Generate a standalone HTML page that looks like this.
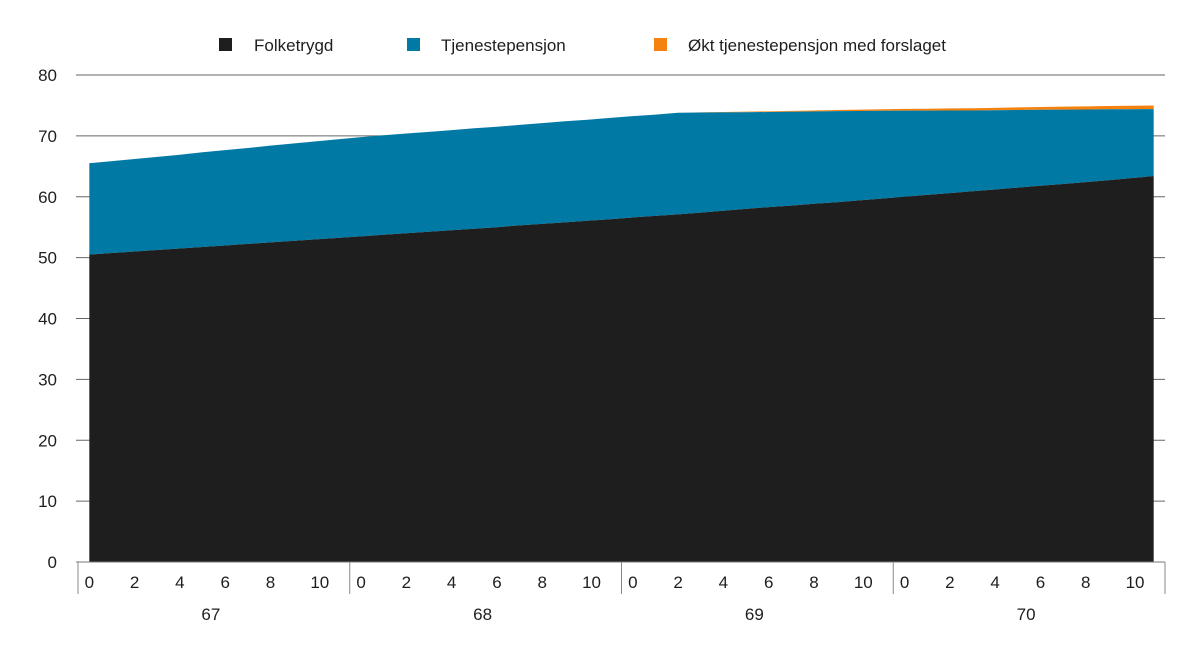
<!DOCTYPE html>
<html><head><meta charset="utf-8"><style>
html,body{margin:0;padding:0;background:#fff;}
svg text{font-family:"Liberation Sans",sans-serif;fill:#1e1e1e;}
</style></head><body>
<svg id="chart" width="1200" height="661" viewBox="0 0 1200 661" xmlns="http://www.w3.org/2000/svg">
<g id="legend">
<g><rect x="219" y="38" width="13" height="13" fill="#1e1e1e"/><text x="254" y="51" font-size="17">Folketrygd</text></g>
<g><rect x="407" y="38" width="13" height="13" fill="#007aa5"/><text x="441" y="51" font-size="17">Tjenestepensjon</text></g>
<g><rect x="654" y="38" width="13" height="13" fill="#f5820f"/><text x="688" y="51" font-size="17">Økt tjenestepensjon med forslaget</text></g>
</g>
<g id="grid"></g>
<g id="areas"></g>
<g id="axes"></g>
</svg>
<script>
const years = ["67","68","69","70"];
const monthTicks = ["0","2","4","6","8","10"];
const yTicks = [0,10,20,30,40,50,60,70,80];
const folketrygd = [50.5,50.75,51.0,51.25,51.5,51.75,52.0,52.25,52.5,52.75,53.0,53.25,53.5,53.75,54.0,54.25,54.5,54.75,55.0,55.3,55.55,55.8,56.05,56.3,56.6,56.85,57.1,57.4,57.7,58.0,58.3,58.55,58.85,59.1,59.4,59.7,60.0,60.3,60.6,60.9,61.2,61.5,61.8,62.1,62.4,62.7,63.05,63.4];
const tjeneste = [15.0,15.1,15.2,15.3,15.4,15.55,15.65,15.75,15.9,16.0,16.1,16.2,16.3,16.35,16.4,16.4,16.45,16.5,16.5,16.5,16.55,16.6,16.6,16.65,16.65,16.65,16.7,16.43,16.16,15.89,15.62,15.42,15.15,14.96,14.69,14.42,14.15,13.85,13.57,13.27,13.0,12.76,12.49,12.22,11.94,11.67,11.32,11.0];
const okt = [0,0,0,0,0,0,0,0,0,0,0,0,0,0,0,0,0,0,0,0,0,0,0,0,0,0,0,0.03,0.06,0.09,0.11,0.14,0.17,0.2,0.23,0.26,0.29,0.31,0.34,0.37,0.4,0.43,0.46,0.49,0.51,0.54,0.57,0.6];

const NS="http://www.w3.org/2000/svg";
const X0=78, X1=1165, Y0=562, Y1=75;
const groupW=(X1-X0)/years.length, monthW=groupW/12;
const xOf=i=>X0+Math.floor(i/12)*groupW+((i%12)+0.5)*monthW;
const yOf=v=>Y0-(v/80)*(Y0-Y1);
function mk(tag,attrs,parent){const e=document.createElementNS(NS,tag);for(const k in attrs)e.setAttribute(k,attrs[k]);parent.appendChild(e);return e;}
const grid=document.getElementById('grid'), areas=document.getElementById('areas'), axes=document.getElementById('axes');
yTicks.forEach(v=>{
  if(v>0){const l=mk('line',{x1:76,x2:X1,y1:yOf(v),y2:yOf(v),stroke:'#666','stroke-width':1},grid);
  
  }
  const t=mk('text',{x:57,y:yOf(v)+6,'font-size':17,'text-anchor':'end'},axes);
  t.textContent=v;
  
  
});
function area(lower,upper,color,name){
  let d='';
  upper.forEach((v,i)=>{d+=(i?'L':'M')+xOf(i).toFixed(2)+','+yOf(v).toFixed(2);});
  for(let i=lower.length-1;i>=0;i--)d+='L'+xOf(i).toFixed(2)+','+yOf(lower[i]).toFixed(2);
  const p=mk('path',{d:d+'Z',fill:color},areas);
  
  
}
const zero=folketrygd.map(()=>0);
const s1=folketrygd.slice();
const s2=s1.map((v,i)=>v+tjeneste[i]);
const s3=s2.map((v,i)=>v+okt[i]);
area(s2,s3,'#f5820f','area-okt-tjenestepensjon');
area(s1,s2,'#007aa5','area-tjenestepensjon');
area(zero,s1,'#1e1e1e','area-folketrygd');
const base=mk('line',{x1:76,x2:X1,y1:Y0,y2:Y0,stroke:'#777','stroke-width':1},axes);


for(let g=0;g<=years.length;g++){
  const x=X0+g*groupW;
  const s=mk('line',{x1:x,x2:x,y1:Y0,y2:594,stroke:'#888','stroke-width':1},axes);
  
  
}
years.forEach((y,g)=>{
  monthTicks.forEach(m=>{
    const i=g*12+Number(m);
    const t=mk('text',{x:xOf(i)+(m.length>1?4:0),y:588,'font-size':17,'text-anchor':'middle'},axes);
    t.textContent=m;
    
    
  });
  const t=mk('text',{x:X0+g*groupW+groupW/2-3,y:620,'font-size':17,'text-anchor':'middle'},axes);
  t.textContent=y;
  
  
});
</script>
</body></html>
